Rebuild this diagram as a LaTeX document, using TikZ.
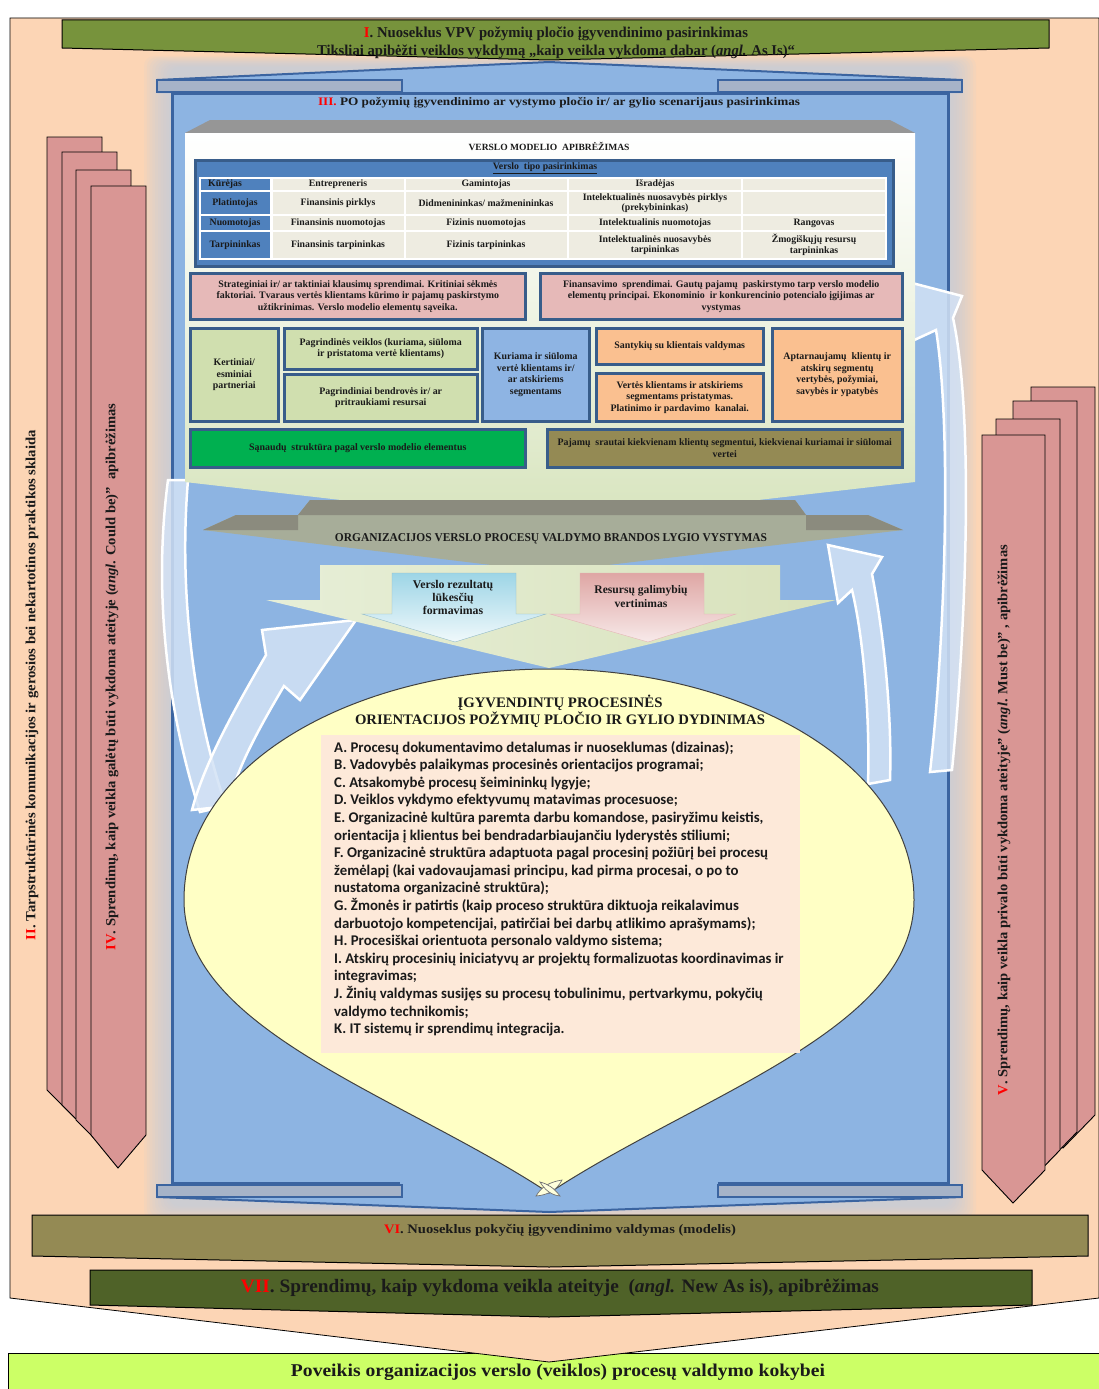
\documentclass[tikz,border=0pt]{standalone}
\usepackage{fontspec}
\usepackage{graphicx}
\setmainfont{Liberation Serif}
\newfontfamily\listfont{Carlito}
\usetikzlibrary{calc}

\definecolor{peach}{HTML}{FCD5B5}
\definecolor{bannerI}{HTML}{77933C}
\definecolor{frameblue}{HTML}{8DB4E2}
\definecolor{frameline}{HTML}{3B64A0}
\definecolor{bargray}{HTML}{A6B3C8}
\definecolor{glowblue}{HTML}{B9CDE5}
\definecolor{bevel}{HTML}{969696}
\definecolor{boxgreen}{HTML}{D7E4BD}
\definecolor{tblue}{HTML}{4F81BD}
\definecolor{tline}{HTML}{385D8A}
\definecolor{cream}{HTML}{EEECE1}
\definecolor{pinkbox}{HTML}{E6B9B8}
\definecolor{lgreen}{HTML}{D0DFAF}
\definecolor{bluebox}{HTML}{8EB4E3}
\definecolor{orangebox}{HTML}{FAC090}
\definecolor{greenbox}{HTML}{00B050}
\definecolor{olivebox}{HTML}{948A54}
\definecolor{arrowpink}{HTML}{D99694}
\definecolor{arrowcyan}{HTML}{9DD5E6}
\definecolor{dropyellow}{HTML}{FFFFC5}
\definecolor{listpink}{HTML}{FDE9D9}
\definecolor{bannerVI}{HTML}{948A54}
\definecolor{bannerVII}{HTML}{4F6228}
\definecolor{lime}{HTML}{CCFF66}
\definecolor{darrow}{HTML}{D3E2F5}
\definecolor{grayband}{HTML}{A7AD99}
\definecolor{graydark}{HTML}{8B8B7E}
\definecolor{txt}{HTML}{1A1A1A}

% stretch a one-line text to a given width, keeping its height
\newcommand\wfit[2]{\resizebox{#1pt}{\height}{#2}}
\newcommand\rnum[1]{\textcolor{red}{#1}}
\newcommand\tabfont{\fontsize{9.8}{10.5}\selectfont}
\newcommand\boxfont{\fontsize{9.9}{11.6}\selectfont}

\tikzset{
  every node/.style={font=\bfseries, inner sep=0pt, align=center, text=txt},
  bmbox/.style={draw=tline, line width=2.5pt, anchor=north west, font=\bfseries\boxfont},
  pinkarrow/.style={fill=arrowpink, draw=black, line width=0.9pt},
  warrow/.style={fill=darrow, fill opacity=0.85, draw=white, line width=2.5pt},
  celltext/.style={font=\bfseries\tabfont},
}

\begin{document}
\begin{tikzpicture}[x=1pt,y=-1pt]
\useasboundingbox (0,0) rectangle (1099,1389);
\fill[white] (0,0) rectangle (1099,1389);

% result box at the very bottom
\draw[fill=lime, line width=0.8pt] (8,1353) rectangle (1099,1389);
\node (result) at (558,1372) {\fontsize{18}{18}\selectfont\wfit{534}{Poveikis organizacijos  verslo (veiklos) procesų valdymo kokybei}};

% peach background arrow
\draw[fill=peach, line width=0.8pt] (10,18) -- (1099,18) -- (1099,1298) -- (549,1362) -- (10,1298) -- cycle;

% glow around the blue frame
\foreach \i in {1,...,10}
  \fill[glowblue, opacity=0.10, rounded corners=10pt] (172-2.8*\i,68-1.2*\i) rectangle (948+2.8*\i,1205+1.5*\i);

% blue frame: roof, body, bars
\fill[frameblue] (157,80) -- (549,62) -- (962,80) -- (962,93) -- (157,93) -- cycle;
\draw[frameline, line width=2pt] (157,80) -- (549,62) -- (962,80);
\fill[frameblue] (172,93) rectangle (948,1184);
\fill[frameblue] (157,1184) -- (962,1184) -- (962,1197) -- (549,1212) -- (157,1197) -- cycle;
\draw[frameline, line width=3pt] (400,1183) -- (172,1183) -- (172,93) -- (948,93) -- (948,1183) -- (718,1183);
\draw[frameline, line width=2pt] (157,1197) -- (549,1212) -- (962,1197);
\draw[fill=bargray, draw=frameline, line width=1.5pt] (157,80) rectangle (402,92);
\draw[fill=bargray, draw=frameline, line width=1.5pt] (718,80) rectangle (962,92);
\draw[fill=bargray, draw=frameline, line width=1.5pt] (157,1185) rectangle (402,1197);
\draw[fill=bargray, draw=frameline, line width=1.5pt] (718,1185) rectangle (962,1197);

% banner I
\draw[fill=bannerI, line width=1pt] (62,20) -- (1049,20) -- (1049,48) -- (549,60) -- (62,48) -- cycle;
\node (tI) at (556,34) {\fontsize{15}{15}\selectfont\wfit{384}{\rnum{I}. Nuoseklus VPV požymių pločio įgyvendinimo pasirinkimas}};
\node (tIb) at (556,52) {\fontsize{15}{15}\selectfont\wfit{478}{Tiksliai apibėžti veiklos vykdymą „kaip veikla vykdoma dabar (\textit{angl.} As Is)“}};

\node (tIII) at (559,103) {\fontsize{11.5}{11.5}\selectfont\wfit{482}{\rnum{III.} PO požymių įgyvendinimo ar vystymo pločio ir/ ar gylio scenarijaus pasirinkimas}};

% left stack of pink arrows
\draw[pinkarrow] (47,137) -- (102,137) -- (102,1090) -- (75,1118) -- (47,1090) -- cycle;
\draw[pinkarrow] (62,152) -- (117,152) -- (117,1105) -- (90,1133) -- (62,1105) -- cycle;
\draw[pinkarrow] (76,170) -- (131,170) -- (131,1120) -- (104,1148) -- (76,1120) -- cycle;
\draw[pinkarrow] (91,186) -- (146,186) -- (146,1135) -- (118,1168) -- (91,1135) -- cycle;
\node[rotate=90] (tII) at (32,685) {\fontsize{14}{14}\selectfont\wfit{510}{\rnum{II}. Tarpstruktūrinės komunikacijos ir gerosios bei nekartotinos praktikos sklaida}};
\node[rotate=90] (tIV) at (112,677) {\fontsize{14}{14}\selectfont\wfit{547}{\rnum{IV}. Sprendimų, kaip veikla galėtų būti vykdoma ateityje (\textit{angl}. Could be)”~~apibrėžimas}};

% right stack of pink arrows
\draw[pinkarrow] (1031,387) -- (1095,387) -- (1095,1115) -- (1063,1148) -- (1031,1115) -- cycle;
\draw[pinkarrow] (1013,401) -- (1077,401) -- (1077,1132) -- (1045,1165) -- (1013,1132) -- cycle;
\draw[pinkarrow] (996,419) -- (1060,419) -- (1060,1150) -- (1028,1183) -- (996,1150) -- cycle;
\draw[pinkarrow] (982,435) -- (1045,435) -- (1045,1170) -- (1013,1203) -- (982,1170) -- cycle;
\node[rotate=90] (tV) at (1004,820) {\fontsize{14}{14}\selectfont\wfit{550}{\rnum{V}. Sprendimų, kaip veikla privalo būti vykdoma ateityje” (\textit{angl}. Must be)” , apibrėžimas}};

% light curved feedback arrows
\draw[warrow] (168,480) .. controls (152,600) and (170,720) .. (200,812) -- (226,806) .. controls (196,720) and (178,600) .. (188,480) -- cycle;
\draw[warrow] (356,620) -- (300,700) -- (284,686) .. controls (258,730) and (236,770) .. (228,806) -- (192,810) .. controls (205,760) and (240,700) .. (266,655) -- (262,630) -- cycle;
\draw[warrow] (828,545) -- (882,557) -- (872,574) .. controls (885,640) and (892,720) .. (890,780) -- (868,784) .. controls (870,720) and (864,640) .. (852,590) -- (838,603) -- cycle;
\draw[warrow] (912,283) -- (962,296) -- (953,318) .. controls (975,420) and (965,640) .. (952,770) -- (930,772) .. controls (945,640) and (952,430) .. (936,330) -- (910,342) -- cycle;

% business model panel
\fill[bevel] (210,120) -- (890,120) -- (915,133) -- (185,133) -- cycle;
\shade[top color=white, bottom color=boxgreen, middle color=white!55!boxgreen] (185,133) -- (915,133) -- (915,482) -- (549,524) -- (185,482) -- cycle;
\node (bmtitle) at (549,146) {\fontsize{9.5}{9.5}\selectfont\wfit{161}{VERSLO MODELIO~~APIBRĖŽIMAS}};

% business type table
\draw[fill=tblue, draw=tline, line width=3pt] (195,160) rectangle (893,266);
\node (ttitle) at (545,168) {\tabfont\underline{Verslo~~tipo pasirinkimas}};
\fill[white] (199,177) rectangle (887,260);
\foreach \ya/\yb in {179/190,192/214,216/230,232/258} {
  \fill[tblue] (201,\ya) rectangle (270,\yb);
  \foreach \xa/\xb in {273/404,406/567,569/741,743/885}
    \fill[cream] (\xa,\ya) rectangle (\xb,\yb);
}
\node[celltext, anchor=west] (r1) at (208,184.5) {Kūrėjas};
\node[celltext] (r2) at (235,203) {Platintojas};
\node[celltext] (r3) at (235,223) {Nuomotojas};
\node[celltext] (r4) at (235,245) {Tarpininkas};
\node[celltext] (c11) at (338,184.5) {Entrepreneris};
\node[celltext] (c12) at (486,184.5) {Gamintojas};
\node[celltext] (c13) at (655,184.5) {Išradėjas};
\node[celltext] (c21) at (338,203) {Finansinis pirklys};
\node[celltext] (c22) at (486,203) {Didmenininkas/ mažmenininkas};
\node[celltext] (c23) at (655,203) {Intelektualinės nuosavybės pirklys\\(prekybininkas)};
\node[celltext] (c31) at (338,223) {Finansinis nuomotojas};
\node[celltext] (c32) at (486,223) {Fizinis nuomotojas};
\node[celltext] (c33) at (655,223) {Intelektualinis nuomotojas};
\node[celltext] (c34) at (814,223) {Rangovas};
\node[celltext] (c41) at (338,245) {Finansinis tarpininkas};
\node[celltext] (c42) at (486,245) {Fizinis tarpininkas};
\node[celltext] (c43) at (655,245) {Intelektualinės nuosavybės\\tarpininkas};
\node[celltext] (c44) at (814,245) {Žmogiškųjų resursų\\tarpininkas};

% business model elements
\node[bmbox, fill=pinkbox, minimum width=335pt, minimum height=46pt] (strat) at (189,272)
  {Strateginiai ir/ ar taktiniai klausimų sprendimai. Kritiniai sėkmės\\faktoriai. Tvaraus vertės klientams kūrimo ir pajamų paskirstymo\\užtikrinimas. Verslo modelio elementų sąveika.};
\node[bmbox, fill=pinkbox, minimum width=362pt, minimum height=46pt] (fin) at (539,272)
  {Finansavimo~ sprendimai. Gautų pajamų~ paskirstymo tarp verslo modelio\\elementų principai. Ekonominio~ ir konkurencinio potencialo įgijimas ar\\vystymas};
\node[bmbox, fill=lgreen, minimum width=88pt, minimum height=93pt] (partn) at (189,327)
  {Kertiniai/\\esminiai\\partneriai};
\node[bmbox, fill=lgreen, minimum width=193pt, minimum height=41pt] (activ) at (283,327)
  {Pagrindinės veiklos (kuriama, siūloma\\ir pristatoma vertė klientams)};
\node[bmbox, fill=lgreen, minimum width=193pt, minimum height=47pt] (resrc) at (283,373)
  {Pagrindiniai bendrovės ir/ ar\\pritraukiami resursai};
\node[bmbox, fill=bluebox, minimum width=107pt, minimum height=93pt] (value) at (481,327)
  {Kuriama ir siūloma\\vertė klientams ir/\\ar atskiriems\\segmentams};
\node[bmbox, fill=orangebox, minimum width=167pt, minimum height=36pt] (relat) at (595,327)
  {Santykių su klientais valdymas};
\node[bmbox, fill=orangebox, minimum width=167pt, minimum height=48pt] (chann) at (595,372)
  {Vertės klientams ir atskiriems\\segmentams pristatymas.\\Platinimo ir pardavimo~ kanalai.};
\node[bmbox, fill=orangebox, minimum width=130pt, minimum height=93pt] (segm) at (771,327)
  {Aptarnaujamų~ klientų ir\\atskirų segmentų\\vertybės, požymiai,\\savybės ir ypatybės};
\node[bmbox, fill=greenbox, minimum width=335pt, minimum height=38pt] (cost) at (189,428)
  {Sąnaudų~ struktūra pagal verslo modelio elementus};
\node[bmbox, fill=olivebox, minimum width=355pt, minimum height=38pt] (rev) at (546,428)
  {Pajamų~ srautai kiekvienam klientų segmentui, kiekvienai kuriamai ir siūlomai\\vertei};

% maturity arrow
\fill[grayband] (203,530) -- (236,515) -- (298,515) -- (310,500) -- (795,500) -- (806,515) -- (868,515) -- (903,530) -- (549,572) -- cycle;
\fill[graydark] (310,500) -- (795,500) -- (806,515) -- (298,515) -- cycle;
\fill[graydark] (203,530) -- (236,515) -- (298,515) -- (298,530) -- cycle;
\fill[graydark] (903,530) -- (868,515) -- (806,515) -- (806,530) -- cycle;
\node (matur) at (551,539) {\fontsize{12}{12}\selectfont\wfit{432}{ORGANIZACIJOS VERSLO PROCESŲ VALDYMO BRANDOS LYGIO VYSTYMAS}};

% green arrow with the two inner arrows
\shade[left color=white!40!boxgreen, right color=boxgreen!90!olive!80] (320,565) -- (780,565) -- (780,600) -- (836,600) -- (549,668) -- (266,600) -- (320,600) -- cycle;
\shade[top color=arrowcyan, bottom color=arrowcyan!15!white, draw=arrowcyan!70!gray] (392,573) -- (516,573) -- (516,614) -- (546,614) -- (455,642) -- (362,614) -- (392,614) -- cycle;
\shade[top color=arrowpink!85, bottom color=arrowpink!20, draw=arrowpink!70] (580,573) -- (704,573) -- (704,614) -- (736,614) -- (648,642) -- (550,614) -- (580,614) -- cycle;
\node[font=\bfseries\fontsize{11.8}{13}\selectfont] (expect) at (453,597) {Verslo rezultatų\\lūkesčių\\formavimas};
\node[font=\bfseries\fontsize{11.6}{14}\selectfont] (resev) at (641,597) {Resursų galimybių\\vertinimas};

% drop with the list of process orientation features
\draw[fill=dropyellow, draw=black!75, line width=1pt] (549,1193) .. controls (400,1095) and (184,1030) .. (184,900) .. controls (184,760) and (360,669) .. (549,669) .. controls (738,669) and (914,760) .. (914,900) .. controls (914,1030) and (698,1095) .. (549,1193) -- cycle;
\draw[fill=dropyellow!60!white, draw=black!55, line width=0.7pt] (536,1196) .. controls (542,1186) and (550,1182) .. (562,1180) .. controls (557,1190) and (548,1195) .. (536,1196) -- cycle;
\draw[fill=dropyellow!60!white, draw=black!55, line width=0.7pt] (560,1196) .. controls (554,1188) and (548,1184) .. (540,1182) .. controls (545,1190) and (551,1195) .. (560,1196) -- cycle;
\node (dtitle1) at (560,703) {\fontsize{14.5}{14.5}\selectfont\wfit{205}{ĮGYVENDINTŲ PROCESINĖS}};
\node (dtitle2) at (560,720) {\fontsize{14.5}{14.5}\selectfont\wfit{410}{ORIENTACIJOS POŽYMIŲ PLOČIO IR GYLIO DYDINIMAS}};
\fill[listpink] (321,735) rectangle (800,1053);
\node[anchor=north west, align=left, font={\listfont\bfseries\fontsize{14.8}{17.6}\selectfont}] (flist) at (334,741)
 {A. Procesų dokumentavimo detalumas ir nuoseklumas (dizainas);\\
  B. Vadovybės palaikymas procesinės orientacijos programai;\\
  C. Atsakomybė procesų šeimininkų lygyje;\\
  D. Veiklos vykdymo efektyvumų matavimas procesuose;\\
  E. Organizacinė kultūra paremta darbu komandose, pasiryžimu keistis,\\
  orientacija į klientus bei bendradarbiaujančiu lyderystės stiliumi;\\
  F. Organizacinė struktūra adaptuota pagal procesinį požiūrį bei procesų\\
  žemėlapį (kai vadovaujamasi principu, kad pirma procesai, o po to\\
  nustatoma organizacinė struktūra);\\
  G. Žmonės ir patirtis (kaip proceso struktūra diktuoja reikalavimus\\
  darbuotojo kompetencijai, patirčiai bei darbų atlikimo aprašymams);\\
  H. Procesiškai orientuota personalo valdymo sistema;\\
  I. Atskirų procesinių iniciatyvų ar projektų formalizuotas koordinavimas ir\\
  integravimas;\\
  J. Žinių valdymas susijęs su procesų tobulinimu, pertvarkymu, pokyčių\\
  valdymo technikomis;\\
  K. IT sistemų ir sprendimų integracija.};

% banners VI and VII
\draw[fill=bannerVI, line width=1pt] (32,1215) -- (1088,1215) -- (1088,1256) -- (549,1267) -- (32,1256) -- cycle;
\node (tVI) at (560,1230) {\fontsize{13}{13}\selectfont\wfit{352}{\rnum{VI}. Nuoseklus pokyčių įgyvendinimo valdymas (modelis)}};
\draw[fill=bannerVII, line width=1pt] (90,1270) -- (1032,1270) -- (1032,1305) -- (549,1317) -- (90,1305) -- cycle;
\node (tVII) at (560,1288) {\fontsize{19}{19}\selectfont\wfit{638}{\rnum{VII}. Sprendimų, kaip vykdoma veikla ateityje~ (\textit{angl.} New As is), apibrėžimas}};
\end{tikzpicture}
\end{document}
